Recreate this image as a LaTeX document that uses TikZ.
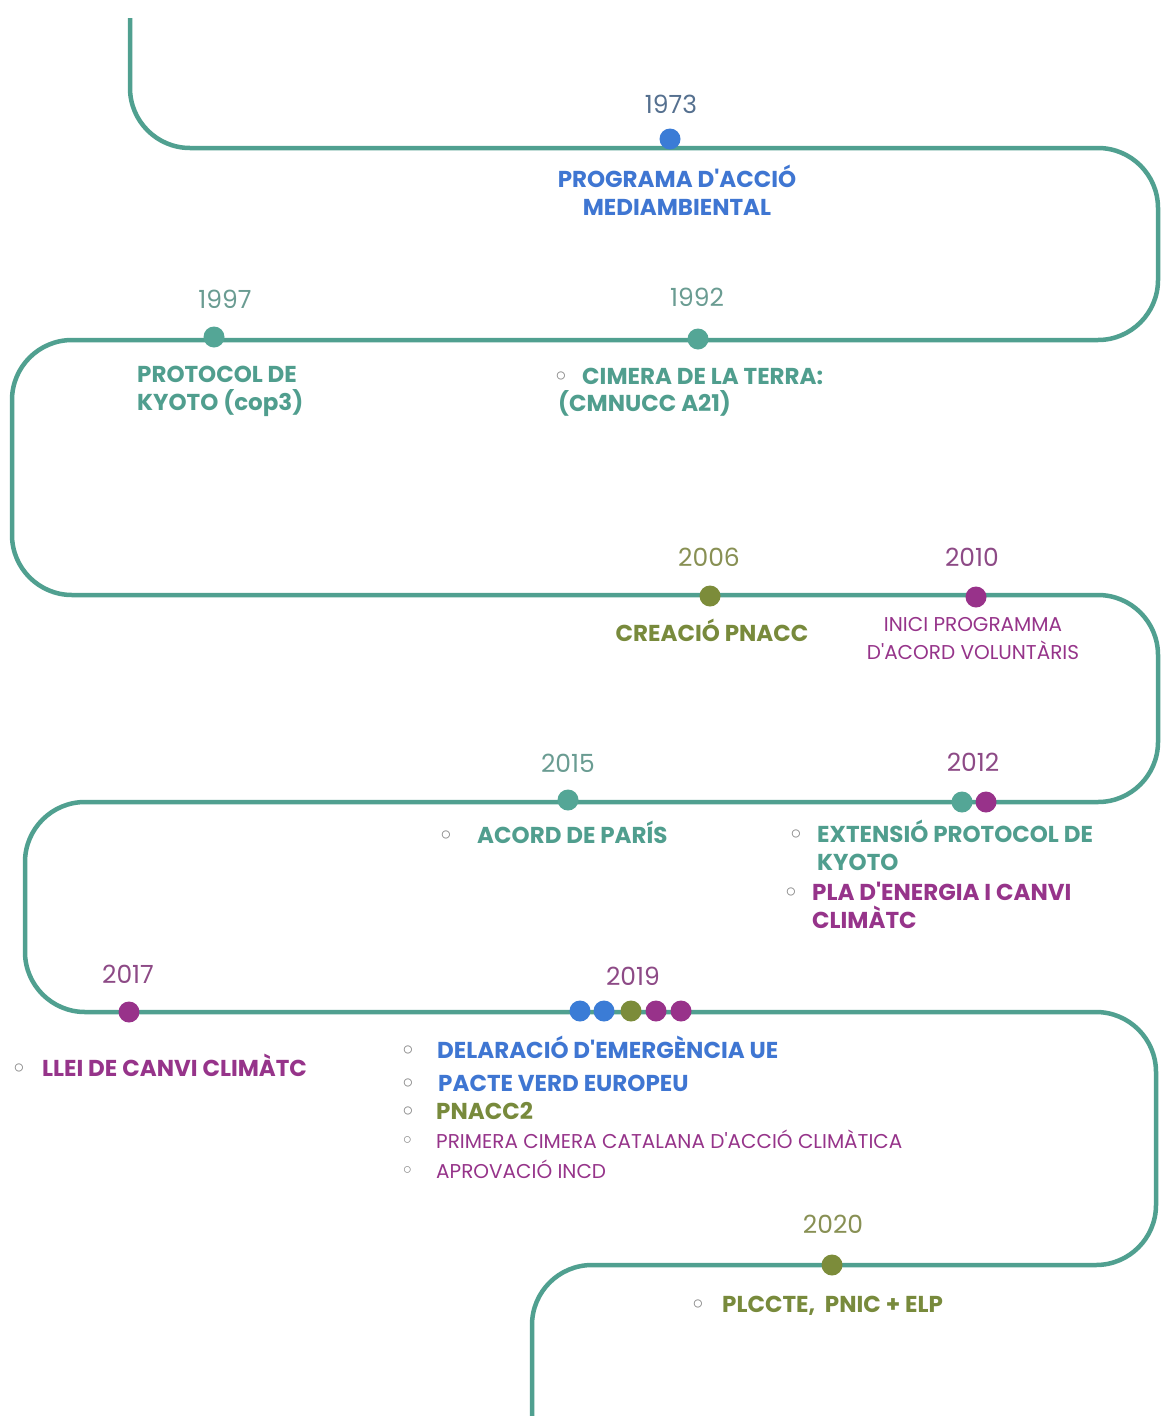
\documentclass[tikz,border=0pt]{standalone}
\usepackage{fontspec}
\setmainfont{Poppins}[Ligatures=TeXOff]
\newfontfamily\symfont{DejaVu Sans}
\definecolor{track}{RGB}{80,160,144}
\definecolor{cblue}{RGB}{59,124,214}
\definecolor{cteal}{RGB}{84,166,150}
\definecolor{colive}{RGB}{124,140,58}
\definecolor{cpurple}{RGB}{152,50,138}
\definecolor{tblue}{RGB}{63,118,210}
\definecolor{tteal}{RGB}{80,158,142}
\definecolor{tolive}{RGB}{120,138,60}
\definecolor{tpurple}{RGB}{150,52,138}
\definecolor{ylblue}{RGB}{85,112,143}
\definecolor{ylteal}{RGB}{106,156,146}
\definecolor{ylolive}{RGB}{136,144,84}
\definecolor{ylpurple}{RGB}{141,74,134}
\definecolor{bulletgray}{RGB}{135,135,135}
% hollow bullet in a box of given width, so the item text starts at a fixed place
\newcommand{\bulbox}[1]{\makebox[#1][l]{{\symfont\color{bulletgray}\fontsize{23}{23}\selectfont ◦}}}
\begin{document}
\begin{tikzpicture}[x=1pt,y=-1pt,
  dot/.style={circle,inner sep=0pt,minimum size=21pt},
  yearlab/.style={inner sep=0pt,anchor=base,font=\fontsize{25}{28}\selectfont},
  boldlab/.style={inner sep=0pt,anchor=base west,font=\bfseries\fontsize{23}{28}\selectfont},
  boldmid/.style={boldlab,anchor=base},
  thinlab/.style={inner sep=0pt,anchor=base west,font=\fontsize{20}{28}\selectfont},
  thinmid/.style={thinlab,anchor=base}]
\useasboundingbox (0,0) rectangle (1161,1416);
\fill[white] (0,0) rectangle (1161,1416);

% the winding timeline track
\draw[track,line width=4.5pt,rounded corners=60pt]
  (130,18) -- (130,148) -- (1158,148) -- (1158,340) -- (12,340) -- (12,595)
  -- (1158,595) -- (1158,802) -- (25,802) -- (25,1012) -- (1156,1012)
  -- (1156,1265) -- (532,1265) -- (532,1416);

% events on the track
\node[dot,fill=cblue] (d1973) at (670,139) {};
\node[dot,fill=cteal] (d1997) at (214,337) {};
\node[dot,fill=cteal] (d1992) at (698,339) {};
\node[dot,fill=colive] (d2006) at (710,596) {};
\node[dot,fill=cpurple] (d2010) at (976,597) {};
\node[dot,fill=cteal] (d2015) at (568,800) {};
\node[dot,fill=cteal] (d2012a) at (962,802) {};
\node[dot,fill=cpurple] (d2012b) at (986,802) {};
\node[dot,fill=cpurple] (d2017) at (129,1012) {};
\node[dot,fill=cblue] (d2019a) at (580,1011) {};
\node[dot,fill=cblue] (d2019b) at (604,1011) {};
\node[dot,fill=colive] (d2019c) at (631,1011) {};
\node[dot,fill=cpurple] (d2019d) at (656,1011) {};
\node[dot,fill=cpurple] (d2019e) at (681,1011) {};
\node[dot,fill=colive] (d2020) at (832,1265) {};

% years
\node[yearlab,text=ylblue] (y1973) at (671,113) {1973};
\node[yearlab,text=ylteal] (y1997) at (225,308) {1997};
\node[yearlab,text=ylteal] (y1992) at (697,306) {1992};
\node[yearlab,text=ylolive] (y2006) at (709,566) {2006};
\node[yearlab,text=ylpurple] (y2010) at (972,566) {2010};
\node[yearlab,text=ylteal] (y2015) at (568,772) {2015};
\node[yearlab,text=ylpurple] (y2012) at (973,771) {2012};
\node[yearlab,text=ylpurple] (y2017) at (128,983) {2017};
\node[yearlab,text=ylpurple] (y2019) at (633,985) {2019};
\node[yearlab,text=ylolive] (y2020) at (833,1233) {2020};

% descriptions
\node[boldmid,text=tblue] (t1973a) at (677,187) {PROGRAMA D'ACCIÓ};
\node[boldmid,text=tblue] (t1973b) at (677,215) {MEDIAMBIENTAL};
\node[boldlab,text=tteal] (t1997a) at (137,382) {PROTOCOL DE};
\node[boldlab,text=tteal] (t1997b) at (137,410) {KYOTO (cop3)};
\node[boldlab,text=tteal] (t1992a) at (553.5,384) {\bulbox{28.5pt}CIMERA DE LA TERRA:};
\node[boldlab,text=tteal] (t1992b) at (558,411) {(CMNUCC A21)};
\node[boldmid,text=tolive] (t2006) at (712,641) {CREACIÓ PNACC};
\node[thinmid,text=tpurple] (t2010a) at (973,631) {INICI PROGRAMMA};
\node[thinmid,text=tpurple] (t2010b) at (973,659) {D'ACORD VOLUNTÀRIS};
\node[boldlab,text=tteal] (t2015) at (438.5,843) {\bulbox{38.5pt}ACORD DE PARÍS};
\node[boldlab,text=tteal] (t2012a) at (788.5,842) {\bulbox{28.5pt}EXTENSIÓ PROTOCOL DE};
\node[boldlab,text=tteal] (t2012b) at (817,870) {KYOTO};
\node[boldlab,text=tpurple] (t2012c) at (783.5,900) {\bulbox{28.5pt}PLA D'ENERGIA I CANVI};
\node[boldlab,text=tpurple] (t2012d) at (812,928) {CLIMÀTC};
\node[boldlab,text=tpurple] (t2017) at (11.5,1076) {\bulbox{30.5pt}LLEI DE CANVI CLIMÀTC};
\node[boldlab,text=tblue] (t2019a) at (400.5,1058) {\bulbox{36.5pt}DELARACIÓ D'EMERGÈNCIA UE};
\node[boldlab,text=tblue] (t2019b) at (400.5,1091) {\bulbox{37.5pt}PACTE VERD EUROPEU};
\node[boldlab,text=tolive] (t2019c) at (400.5,1119) {\bulbox{35.5pt}PNACC2};
\node[thinlab,text=tpurple] (t2019d) at (400.5,1148) {\bulbox{35.5pt}PRIMERA CIMERA CATALANA D'ACCIÓ CLIMÀTICA};
\node[thinlab,text=tpurple] (t2019e) at (400.5,1178) {\bulbox{35.5pt}APROVACIÓ INCD};
\node[boldlab,text=tolive] (t2020) at (690.5,1312) {\bulbox{31.5pt}PLCCTE,\ \ PNIC + ELP};
\end{tikzpicture}
\end{document}
